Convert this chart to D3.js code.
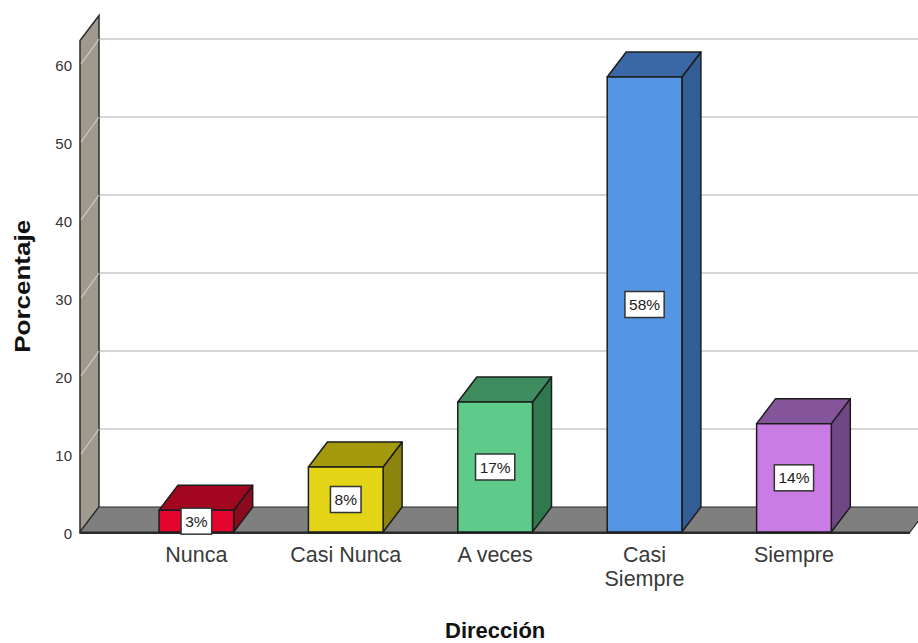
<!DOCTYPE html>
<html>
<head>
<meta charset="utf-8">
<script src="https://cdn.jsdelivr.net/npm/d3@7"></script>
<style>
  html, body { margin: 0; padding: 0; background: #ffffff; }
  svg { display: block; font-family: "Liberation Sans", Arial, sans-serif; }
</style>
</head>
<body>
<svg id="chart" width="918" height="643"></svg>
<script>
// Response categories and their share of respondents (%)
const categories = ["Nunca", "Casi Nunca", "A veces", "Casi Siempre", "Siempre"];
const percentages = [2.78, 8.33, 16.67, 58.33, 13.89];
const yTicks = [0, 10, 20, 30, 40, 50, 60];
const xTitle = "Dirección";
const yTitle = "Porcentaje";

// Palette: front face, top face, right side face for each bar
const frontFill = ["#e4052f", "#e3d416", "#5fcb8b", "#5596e4", "#c97ce3"];
const topFill   = ["#a3061f", "#a59a0c", "#3f8c5e", "#3a68a6", "#85559c"];
const sideFill  = ["#8c0a1d", "#8c840c", "#30794f", "#335d95", "#704785"];

const svg = d3.select("#chart");
const DX = 19, DY = -25;          // depth offset of the 3D box
const FLOOR_Y = 532;

const y = d3.scaleLinear().domain([0, 63]).range([FLOOR_Y, FLOOR_Y - 63 * 7.8]);
const x = d3.scaleBand().domain(categories).range([121.65, 868.65])
  .paddingInner(0.5).paddingOuter(0.25);

const wallX0 = 80, wallX1 = wallX0 + DX, rightX = 910;
const poly = pts => pts.map(p => p.join(",")).join(" ");

// Left wall
svg.append("polygon")
  .attr("points", poly([[wallX0, y(0)], [wallX0, y(63)], [wallX1, y(63) + DY], [wallX1, y(0) + DY]]))
  .attr("fill", "#9f9a8d").attr("stroke", "#2b2b2b").attr("stroke-width", 1.5);

// Gridlines: diagonal across the wall, horizontal across the back plane
const grid = svg.append("g");
yTicks.filter(t => t > 0).forEach(t => {
  grid.append("line")
    .attr("x1", wallX0 + 1).attr("y1", y(t))
    .attr("x2", wallX1).attr("y2", y(t) + DY)
    .attr("stroke", "#dcdcdc").attr("stroke-width", 1.2).attr("opacity", 0.8);
  grid.append("line")
    .attr("x1", wallX1 + 1).attr("y1", y(t) + DY)
    .attr("x2", 918).attr("y2", y(t) + DY)
    .attr("stroke", "#d6d6d6").attr("stroke-width", 2);
});

// Floor slab
svg.append("polygon")
  .attr("points", poly([[wallX0, y(0)], [rightX, y(0)], [rightX + DX, y(0) + DY], [wallX1, y(0) + DY]]))
  .attr("fill", "#7f7f7f").attr("stroke", "#2b2b2b").attr("stroke-width", 1.2);
svg.append("line")
  .attr("x1", wallX0).attr("y1", y(0) + 1).attr("x2", rightX).attr("y2", y(0) + 1)
  .attr("stroke", "#2b2b2b").attr("stroke-width", 2);

// 3D bars
const bars = svg.append("g");
categories.forEach((c, i) => {
  const v = percentages[i];
  const x0 = x(c), w = x.bandwidth(), x1 = x0 + w;
  const yt = y(v), yb = y(0);
  const g = bars.append("g").attr("stroke", "#1c1c1c").attr("stroke-width", 1.5)
    .attr("stroke-linejoin", "round");
  g.append("polygon")
    .attr("points", poly([[x1, yt], [x1 + DX, yt + DY], [x1 + DX, yb + DY], [x1, yb]]))
    .attr("fill", sideFill[i]);
  g.append("polygon")
    .attr("points", poly([[x0, yt], [x0 + DX, yt + DY], [x1 + DX, yt + DY], [x1, yt]]))
    .attr("fill", topFill[i]);
  g.append("rect")
    .attr("x", x0).attr("y", yt).attr("width", w).attr("height", yb - yt)
    .attr("fill", frontFill[i]);
});

// Value labels in white boxes on the front face
const labels = svg.append("g");
categories.forEach((c, i) => {
  const v = percentages[i];
  const cx = x(c) + x.bandwidth() / 2;
  const cy = (y(v) + y(0)) / 2;
  const g = labels.append("g");
  const t = g.append("text")
    .attr("x", cx).attr("y", cy).attr("dy", "0.36em")
    .attr("text-anchor", "middle")
    .attr("font-size", 15.5).attr("fill", "#222")
    .text(Math.round(v) + "%");
  const bb = t.node().getBBox();
  g.insert("rect", "text")
    .attr("x", cx - bb.width / 2 - 4).attr("y", cy - 13)
    .attr("width", bb.width + 8).attr("height", 26)
    .attr("fill", "#ffffff").attr("stroke", "#333").attr("stroke-width", 1.5);
});

// Y axis tick labels
const yAxis = svg.append("g")
  .attr("transform", `translate(${wallX0 - 8},2)`)
  .call(d3.axisLeft(y).tickValues(yTicks).tickSize(0).tickPadding(0));
yAxis.select(".domain").remove();
yAxis.selectAll("text").attr("font-size", 15).attr("fill", "#333")
  .attr("font-family", "Liberation Sans, Arial, sans-serif");

// X axis category labels (wrapped when too wide)
const xAxis = svg.append("g")
  .attr("transform", `translate(0,${FLOOR_Y + 15})`)
  .call(d3.axisBottom(x).tickSize(0).tickPadding(0));
xAxis.select(".domain").remove();
xAxis.selectAll("text")
  .attr("font-size", 21.5).attr("fill", "#3a3a3a")
  .attr("font-family", "Liberation Sans, Arial, sans-serif")
  .each(function (d) {
    const el = d3.select(this);
    if (this.getComputedTextLength() > 120) {
      const words = d.split(" ");
      el.text(null);
      words.forEach((wd, k) => {
        el.append("tspan").attr("x", 0).attr("dy", k === 0 ? "0.71em" : "1.1em").text(wd);
      });
    }
  });

// Axis titles
svg.append("text")
  .attr("x", (x.range()[0] + x.range()[1]) / 2).attr("y", 638)
  .attr("text-anchor", "middle").attr("font-size", 22).attr("font-weight", "bold")
  .attr("fill", "#111").text(xTitle);

svg.append("text")
  .attr("transform", `translate(30,${(y(0) + y(63)) / 2}) rotate(-90)`)
  .attr("text-anchor", "middle").attr("font-size", 22).attr("font-weight", "bold")
  .attr("textLength", 133).attr("lengthAdjust", "spacingAndGlyphs")
  .attr("fill", "#111").text(yTitle);
</script>
</body>
</html>
